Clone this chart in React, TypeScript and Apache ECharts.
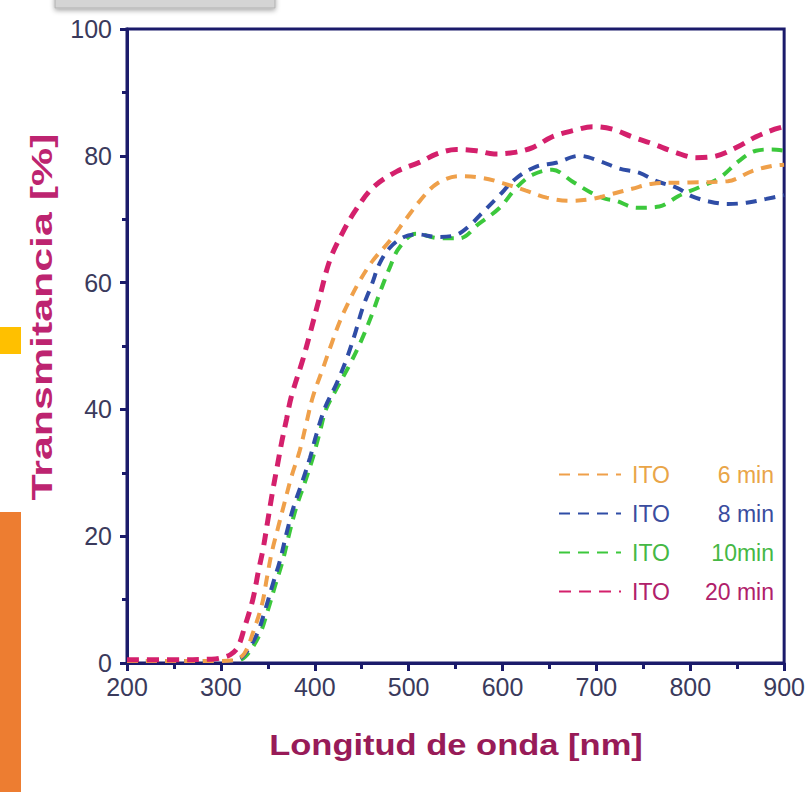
import React, { useEffect, useRef } from "react";
import * as echarts from "echarts";

// Wavelength (nm) and transmittance (%) for each ITO deposition time
const wl6 = [200, 250, 300, 315, 325, 334, 344, 349, 354, 361, 368, 375, 384, 391, 398, 409, 418, 427, 437, 448, 462, 480, 498, 512, 530, 554, 579, 600, 625, 647, 671, 696, 717, 738, 760, 800, 840, 866, 887, 900];
const tr6 = [0.3, 0.3, 0.3, 0.5, 1.5, 4.7, 9.4, 13.4, 17.3, 21.4, 25.4, 29.3, 33.5, 37.8, 42, 46.6, 50.4, 54, 57.2, 60.3, 63.5, 66.6, 70.2, 72.9, 75.6, 76.8, 76.5, 75.7, 74.5, 73.4, 72.9, 73.2, 74, 74.8, 75.6, 75.8, 76, 77.6, 78.4, 78.6];

const wl8 = [200, 250, 300, 312, 323, 338, 347, 355, 363, 370, 377, 386, 395, 402, 411, 423, 434, 443, 451, 461, 469, 480, 495, 510, 530, 550, 565, 577, 595, 615, 636, 657, 682, 703, 724, 746, 764, 785, 802, 820, 840, 860, 881, 900];
const tr8 = [0.3, 0.3, 0.3, 0.3, 1, 4.4, 8.3, 12.3, 16.2, 20.5, 24.4, 28.3, 32.4, 36.2, 40.3, 44, 48, 52, 56, 59.8, 63, 65.5, 67.2, 67.6, 67.2, 67.5, 69, 70.8, 73.5, 76.5, 78.3, 78.9, 80, 79.2, 78, 77.3, 76, 75, 73.6, 72.8, 72.4, 72.6, 73.2, 73.8];

const wl10 = [200, 250, 300, 315, 326, 341, 350, 358, 366, 373, 380, 389, 398, 405, 412, 423, 437, 450, 461, 469, 480, 490, 508, 533, 554, 575, 597, 615, 632, 653, 674, 693, 710, 721, 743, 767, 788, 809, 831, 852, 870, 887, 900];
const tr10 = [0.3, 0.3, 0.3, 0.3, 1, 4.4, 8.3, 12.3, 16.2, 20.5, 24.4, 28.3, 32.4, 36.2, 40, 43.2, 47, 51, 55, 58.3, 62.4, 65.5, 67.7, 67, 67, 69.3, 71.8, 75, 77, 77.8, 76, 74.3, 73.2, 72.9, 71.8, 72, 73.7, 75, 76.5, 79.2, 80.8, 81, 80.8];

const wl20 = [200, 250, 290, 300, 310, 318, 325, 334, 340, 345, 350, 355, 360, 365, 370, 375, 387, 395, 405, 416, 429, 443, 462, 487, 512, 530, 551, 572, 591, 611, 632, 653, 676, 696, 717, 738, 760, 785, 806, 828, 849, 870, 890, 900];
const tr20 = [0.5, 0.5, 0.6, 0.8, 1.3, 2.5, 5.5, 10, 14.5, 18, 22.5, 27, 31, 35, 38.5, 42, 47.7, 52, 57.6, 63.5, 67.7, 71.3, 75, 77.5, 79, 80.3, 81, 80.8, 80.3, 80.5, 81.3, 83, 84, 84.6, 84.2, 83, 81.9, 80.5, 79.7, 80, 81.3, 83, 84.2, 84.6];

const seriesNames = ["6 min", "8 min", "10min", "20 min"];
const seriesColors = ["#EFA04A", "#2F4DA6", "#3CC83C", "#D4206C"];
const legendTextColors = ["#E9A548", "#3A4C9E", "#45B845", "#B0206A"];

const xTicks = [200, 900, 100];
const yTicks = [0, 100, 20];

const AXIS = "#1b1b6b";
const FONT = '"Liberation Sans", Arial, sans-serif';

const zip = (xs: number[], ys: number[]) => xs.map((x, i) => [x, ys[i]]);

export default function App() {
  const ref = useRef<HTMLDivElement>(null);

  useEffect(() => {
    if (!ref.current) return;
    const chart = echarts.init(ref.current, null, { renderer: "svg" });

    const curves = [zip(wl6, tr6), zip(wl8, tr8), zip(wl10, tr10), zip(wl20, tr20)];

    chart.setOption({
      animation: false,
      backgroundColor: "#ffffff",
      grid: {
        left: 127,
        right: 23,
        top: 29,
        bottom: 129,
        show: true,
        borderColor: AXIS,
        borderWidth: 3,
      },
      xAxis: {
        type: "value",
        min: xTicks[0],
        max: xTicks[1],
        interval: xTicks[2],
        axisLine: { show: true, lineStyle: { color: AXIS, width: 3 } },
        axisTick: { show: true, inside: false, length: 8, lineStyle: { color: AXIS, width: 3 } },
        minorTick: { show: true, splitNumber: 2, length: 6, lineStyle: { color: AXIS, width: 3 } },
        splitLine: { show: false },
        axisLabel: { color: "#3a3a5c", fontSize: 25, fontFamily: FONT, margin: 14, lineHeight: 20 },
      },
      yAxis: {
        type: "value",
        min: yTicks[0],
        max: yTicks[1],
        interval: yTicks[2],
        axisLine: { show: true, lineStyle: { color: AXIS, width: 3 } },
        axisTick: { show: true, inside: false, length: 7, lineStyle: { color: AXIS, width: 3 } },
        minorTick: { show: true, splitNumber: 2, length: 5, lineStyle: { color: AXIS, width: 3 } },
        splitLine: { show: false },
        axisLabel: { color: "#3a3a5c", fontSize: 25, fontFamily: FONT, margin: 15, lineHeight: 20 },
      },
      legend: {
        orient: "vertical",
        left: 553,
        top: 458,
        itemWidth: 62,
        itemHeight: 14,
        itemGap: 16,
        itemStyle: { opacity: 0 },
        data: seriesNames.map((n, i) => ({
          name: n,
          textStyle: { color: legendTextColors[i] },
        })),
        formatter: (name: string) => `{a|ITO}{b|${name}}`,
        textStyle: {
          fontSize: 23,
          fontFamily: FONT,
          rich: {
            a: { fontSize: 23, fontFamily: FONT, width: 52, padding: [0, 0, 0, 6] },
            b: { fontSize: 23, fontFamily: FONT, width: 90, align: "right" },
          },
        },
      },
      series: curves.map((data, i) => ({
        name: seriesNames[i],
        type: "line",
        data,
        smooth: 0.35,
        showSymbol: false,
        symbol: "none",
        z: i === 3 ? 5 : i === 0 ? 4 : 3 - i / 10,
        lineStyle: {
          color: seriesColors[i],
          width: i === 3 ? 5 : 4,
          type: i === 3 ? [12, 8] : [11, 8],
        },
        itemStyle: { color: seriesColors[i] },
      })),
      graphic: [
        {
          type: "rect",
          shape: { x: 55, y: -6, width: 220, height: 14 },
          style: { fill: "#d4d4d4", stroke: "#b0b0b0", lineWidth: 1, shadowBlur: 5, shadowColor: "rgba(0,0,0,0.35)", shadowOffsetY: 2 },
        },
        {
          type: "rect",
          shape: { x: 0, y: 327, width: 21, height: 27 },
          style: { fill: "#FFC000" },
        },
        {
          type: "rect",
          shape: { x: 0, y: 512, width: 21, height: 280 },
          style: { fill: "#ED7D31" },
        },
        {
          type: "text",
          x: 456,
          y: 745,
          scaleX: 1.19,
          style: {
            text: "Longitud de onda [nm]",
            font: `bold 29px ${FONT}`,
            fill: "#981b58",
            align: "center",
            verticalAlign: "middle",
          },
        },
        {
          type: "text",
          x: 41,
          y: 317,
          rotation: Math.PI / 2,
          scaleX: 1.43,
          style: {
            text: "Transmitancia [%]",
            font: `bold 30px ${FONT}`,
            fill: "#bd2470",
            align: "center",
            verticalAlign: "middle",
          },
        },
      ],
    });

    return () => chart.dispose();
  }, []);

  return (
    <div
      ref={ref}
      style={{ position: "fixed", left: 0, top: 0, width: 808, height: 792, background: "#fff" }}
    />
  );
}
